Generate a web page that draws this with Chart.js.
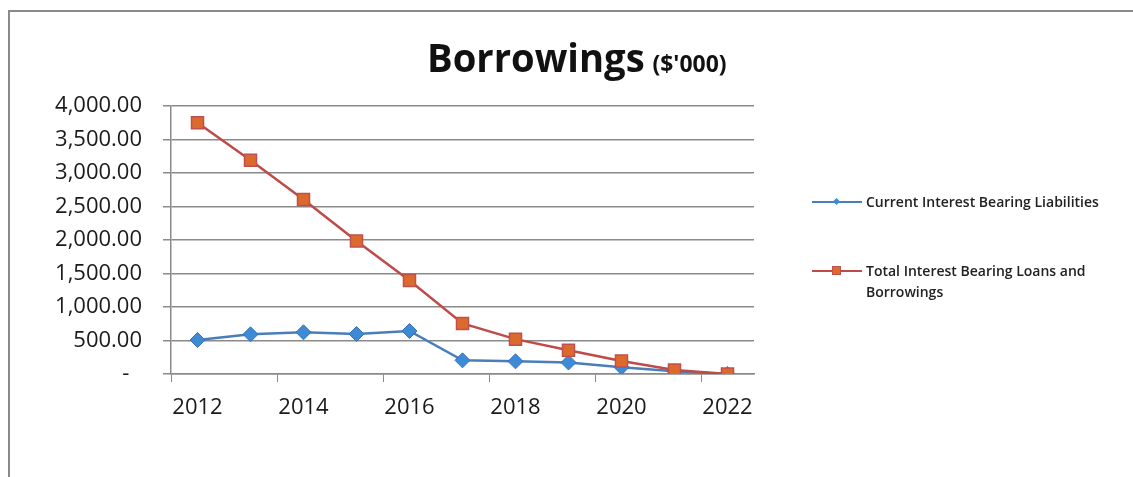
<!DOCTYPE html>
<html>
<head>
<meta charset="utf-8">
<script src="https://cdn.jsdelivr.net/npm/chart.js@4/dist/chart.umd.min.js"></script>
<style>
    html, body { margin: 0; padding: 0; background: #fff; }
    #wrap { position: relative; width: 1133px; height: 477px; overflow: hidden; }
    #frame { position: absolute; left: 8px; top: 10px; width: 1200px; height: 500px;
             border-top: 2px solid #8a8a8a; border-left: 2px solid #8a8a8a; }
    #chart { position: absolute; left: 0; top: 0; }
    #title { position: absolute; left: 427px; top: 37px; font-family: "Open Sans", sans-serif;
             font-weight: 700; color: #111; white-space: nowrap; line-height: 40px;
             transform: scaleX(0.955); transform-origin: left top; }
    #title .big { font-size: 40px; }
    #title .small { font-size: 24px; margin-left: 4px; }
    .legend { position: absolute; left: 812px; font-family: "Open Sans", sans-serif;
              font-size: 14px; font-weight: 600; color: #222; line-height: 21px; }
    .legend .key { position: absolute; left: 0; top: 10px; width: 50px; height: 2px; }
    .legend .mark { position: absolute; }
    .legend .text { position: absolute; left: 54px; top: 0; white-space: nowrap; }
</style>
</head>
<body>
<div id="wrap">
    <div id="frame"></div>
    <canvas id="chart" width="1133" height="477"></canvas>
    <div id="title"><span class="big">Borrowings</span> <span class="small">($'000)</span></div>
    <div class="legend" id="leg1" style="top:191px;">
        <div class="key" style="background:#4a7ebb;"></div>
        <div class="mark" style="left:22px;top:8px;width:5px;height:5px;background:#3d8ad6;transform:rotate(45deg);"></div>
        <div class="text">Current Interest Bearing Liabilities</div>
    </div>
    <div class="legend" id="leg2" style="top:260px;">
        <div class="key" style="background:#be4b48;"></div>
        <div class="mark" style="left:20px;top:6px;width:7px;height:7px;background:#dc6a2c;border:1px solid #c0504d;"></div>
        <div class="text">Total Interest Bearing Loans and<br>Borrowings</div>
    </div>
</div>
<script>
// chart data
const years = ['2012', '2013', '2014', '2015', '2016', '2017', '2018', '2019', '2020', '2021', '2022'];
const currentLiabilities = [507, 592, 622, 597, 642, 204, 189, 172, 100, 40, 0];
const totalBorrowings = [3750, 3190, 2605, 1985, 1395, 755, 520, 355, 195, 60, 0];
const yTicks = [0, 500, 1000, 1500, 2000, 2500, 3000, 3500, 4000];

const tickFont = { family: 'Open Sans', size: 22 };

function formatMoney(value) {
    if (value === 0) return '-\u2007';
    return value.toLocaleString('en-US', { minimumFractionDigits: 2, maximumFractionDigits: 2 });
}

new Chart(document.getElementById('chart'), {
    type: 'line',
    data: {
        labels: years,
        datasets: [
            {
                label: 'Total Interest Bearing Loans and Borrowings',
                data: totalBorrowings,
                borderColor: '#be4b48',
                borderWidth: 2.5,
                pointStyle: 'rect',
                pointRadius: 8.5,
                pointBackgroundColor: '#dc6a2c',
                pointBorderColor: '#c0504d',
                pointBorderWidth: 1.5,
                tension: 0
            },
            {
                label: 'Current Interest Bearing Liabilities',
                data: currentLiabilities,
                borderColor: '#4a7ebb',
                borderWidth: 2.5,
                pointStyle: 'rectRot',
                pointRadius: 7.5,
                pointBackgroundColor: '#3d8ad6',
                pointBorderColor: '#3a70b5',
                pointBorderWidth: 1,
                tension: 0
            }
        ]
    },
    options: {
        responsive: false,
        animation: false,
        layout: { padding: { left: 0, right: 379, top: 106, bottom: 0 } },
        plugins: {
            legend: { display: false },
            tooltip: { enabled: false }
        },
        scales: {
            x: {
                type: 'category',
                offset: true,
                afterFit(scale) { scale.height = 103; },
                grid: {
                    offset: true,
                    drawOnChartArea: false,
                    tickLength: 8,
                    color: ctx => (ctx.index % 2 === 0 ? '#8a8a8a' : 'rgba(0,0,0,0)')
                },
                border: { color: '#8a8a8a', width: 1.5 },
                ticks: {
                    autoSkip: false,
                    maxRotation: 0,
                    padding: 13,
                    color: '#1a1a1a',
                    font: tickFont,
                    callback: (val, i) => (i % 2 === 0 ? years[i] : '')
                }
            },
            y: {
                min: 0,
                max: 4000,
                afterFit(scale) { scale.width = 171; },
                afterBuildTicks(scale) { scale.ticks = yTicks.map(v => ({ value: v })); },
                grid: { color: '#8a8a8a', lineWidth: 1.5, tickLength: 8 },
                border: { color: '#8a8a8a', width: 1.5 },
                ticks: {
                    padding: 21,
                    color: '#1a1a1a',
                    font: tickFont,
                    callback: value => formatMoney(value)
                }
            }
        }
    }
});
</script>
</body>
</html>
